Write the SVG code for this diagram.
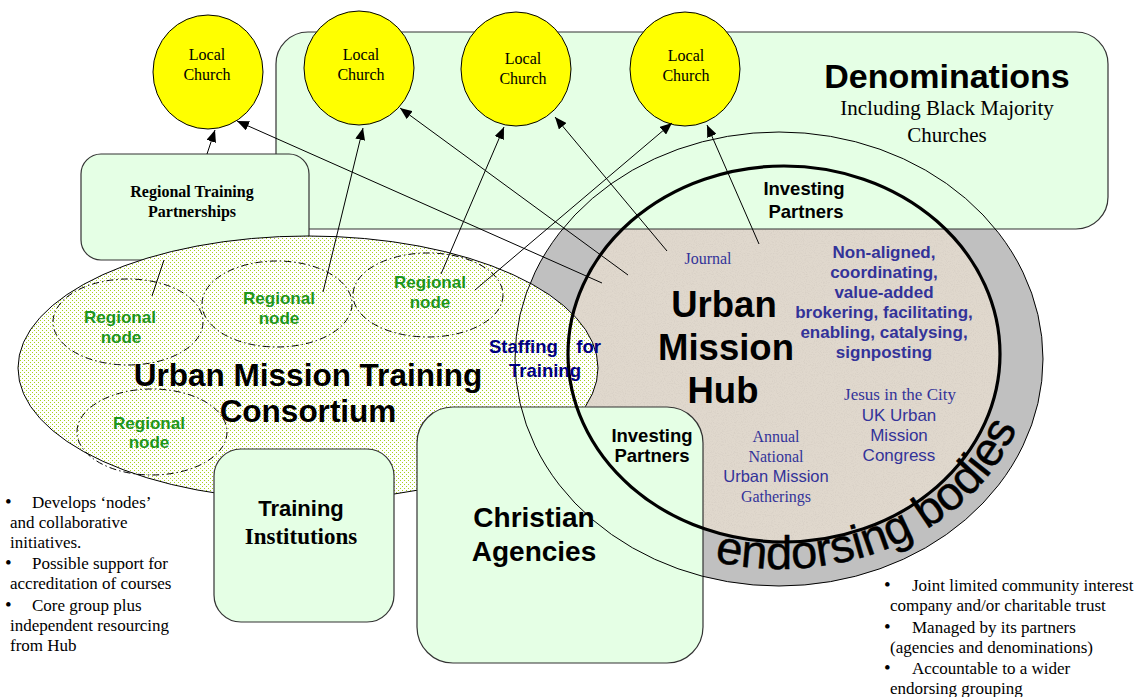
<svg xmlns="http://www.w3.org/2000/svg" width="1141" height="697" viewBox="0 0 1141 697">
<defs>
<pattern id="dots" width="4" height="4" patternUnits="userSpaceOnUse">
<rect width="4" height="4" fill="#ffffff"/>
<rect x="0" y="0" width="1" height="1" fill="#a8d020"/>
<rect x="2" y="2" width="1" height="1" fill="#a8d020"/>
</pattern>
<filter id="speckle" x="0" y="0" width="1" height="1">
<feTurbulence type="fractalNoise" baseFrequency="0.9" numOctaves="2" seed="3" result="n"/>
<feColorMatrix in="n" type="matrix" values="0 0 0 0 0.55  0 0 0 0 0.5  0 0 0 0 0.45  0 0 0 -2.2 1.2" result="m"/>
<feComposite in="m" in2="SourceGraphic" operator="in"/>
</filter>
<marker id="arr" viewBox="0 0 12 10" refX="12" refY="5" markerWidth="12" markerHeight="10" markerUnits="userSpaceOnUse" orient="auto">
<path d="M0,0 L12,5 L0,10 z" fill="#000"/>
</marker>
<path id="endPath" d="M710.5,560.7 A252,213 0 0,0 1031,374.6"/>
</defs>
<style>
.box{fill:#e5ffe5;stroke:#333;stroke-width:1.2}
.church{fill:#ffff00;stroke:#000;stroke-width:1}
.serif{font-family:"Liberation Serif","Times New Roman",serif}
.sans{font-family:"Liberation Sans",Arial,sans-serif}
.b{font-weight:bold}
.mid{text-anchor:middle}
.node{fill:none;stroke:#000;stroke-width:1;stroke-dasharray:7 3 1.5 3}
.ntxt{font-family:"Liberation Sans",Arial,sans-serif;font-weight:bold;font-size:17px;fill:#1e961e;text-anchor:middle}
.blue{fill:#333399}
.conn{stroke:#000;stroke-width:1;fill:none;marker-end:url(#arr)}
.bul{font-family:"Liberation Serif","Times New Roman",serif;font-size:17px;fill:#000}
</style>

<g id="endorsing-ring">
<ellipse cx="779" cy="359" rx="264" ry="227" fill="#c0c0c0"/>
</g>
<g id="hub-fill">
<ellipse cx="784" cy="354" rx="216" ry="188" fill="#e0d8cd"/>
<ellipse cx="784" cy="354" rx="216" ry="188" fill="#e0d8cd" filter="url(#speckle)" opacity="0.35"/>
</g>

<g id="denominations">
<rect class="box" x="276" y="32" width="832" height="197" rx="32"/>
</g>

<g id="local-church-1">
<ellipse class="church" cx="208" cy="72" rx="55" ry="57"/>
<text class="serif mid" x="207" y="60" font-size="16">Local</text>
<text class="serif mid" x="207" y="80" font-size="16">Church</text>
</g>
<g id="local-church-2">
<ellipse class="church" cx="359" cy="68" rx="55" ry="57"/>
<text class="serif mid" x="361" y="60" font-size="16">Local</text>
<text class="serif mid" x="361" y="80" font-size="16">Church</text>
</g>
<g id="local-church-3">
<ellipse class="church" cx="516" cy="69" rx="55" ry="57"/>
<text class="serif mid" x="523" y="64" font-size="16">Local</text>
<text class="serif mid" x="523" y="84" font-size="16">Church</text>
</g>
<g id="local-church-4">
<ellipse class="church" cx="685" cy="69" rx="55" ry="57"/>
<text class="serif mid" x="686" y="61" font-size="16">Local</text>
<text class="serif mid" x="686" y="81" font-size="16">Church</text>
</g>

<g id="regional-training-partnerships">
<rect class="box" x="81" y="154" width="228" height="106" rx="20"/>
<text class="serif b mid" x="192" y="197" font-size="16">Regional Training</text>
<text class="serif b mid" x="192" y="217" font-size="16">Partnerships</text>
</g>

<g id="consortium">
<ellipse cx="308" cy="368" rx="290" ry="132" fill="url(#dots)" stroke="#000" stroke-width="1"/>
</g>

<g id="regional-node-1">
<ellipse class="node" cx="128" cy="322" rx="75" ry="43"/>
<text class="ntxt" x="120" y="323">Regional</text>
<text class="ntxt" x="121" y="343">node</text>
</g>
<g id="regional-node-2">
<ellipse class="node" cx="277" cy="304" rx="75" ry="43"/>
<text class="ntxt" x="279" y="304">Regional</text>
<text class="ntxt" x="279" y="324">node</text>
</g>
<g id="regional-node-3">
<ellipse class="node" cx="428" cy="295" rx="75" ry="42"/>
<text class="ntxt" x="430" y="288">Regional</text>
<text class="ntxt" x="430" y="308">node</text>
</g>
<g id="regional-node-4">
<ellipse class="node" cx="152" cy="432" rx="75" ry="43"/>
<text class="ntxt" x="149" y="429">Regional</text>
<text class="ntxt" x="149" y="448">node</text>
</g>

<g id="training-institutions">
<rect class="box" x="214" y="449" width="180" height="173" rx="27"/>
<text class="sans b mid" x="301" y="516" font-size="22">Training</text>
<text class="serif b mid" x="301" y="544" font-size="23">Institutions</text>
</g>

<g id="christian-agencies">
<rect class="box" x="417" y="407" width="286" height="256" rx="36"/>
<text class="sans b mid" x="534" y="527" font-size="28">Christian</text>
<text class="sans b mid" x="534" y="561" font-size="28">Agencies</text>
</g>

<g id="investing-partners-circle">
<ellipse cx="779" cy="359" rx="264" ry="227" fill="none" stroke="#000" stroke-width="1"/>
</g>
<g id="hub-outline">
<ellipse cx="784" cy="354" rx="216" ry="188" fill="none" stroke="#000" stroke-width="3.2"/>
</g>

<g id="texts">
<text class="sans b mid" x="947" y="88" font-size="34">Denominations</text>
<text class="serif mid" x="947" y="115" font-size="21">Including Black Majority</text>
<text class="serif mid" x="947" y="142" font-size="21">Churches</text>

<text class="sans b mid" x="308" y="386" font-size="31.5">Urban Mission Training</text>
<text class="sans b mid" x="308" y="422" font-size="31.5">Consortium</text>

<text class="sans b" x="489" y="353" font-size="18.5" fill="#000080">Staffing</text>
<text class="sans b" x="601" y="353" font-size="18.5" fill="#000080" text-anchor="end">for</text>
<text class="sans b mid" x="545" y="377" font-size="18.5" fill="#000080">Training</text>

<text class="sans b mid" x="724" y="317" font-size="36.5">Urban</text>
<text class="sans b mid" x="726" y="360" font-size="36.5">Mission</text>
<text class="sans b mid" x="723" y="403" font-size="36.5">Hub</text>

<text class="sans b mid" x="804" y="195" font-size="18.5">Investing</text>
<text class="sans b mid" x="806" y="218" font-size="18.5">Partners</text>

<text class="sans b mid" x="652" y="442" font-size="18.5">Investing</text>
<text class="sans b mid" x="652" y="462" font-size="18.5">Partners</text>

<text class="serif mid blue" x="708" y="264" font-size="16">Journal</text>

<g class="sans b mid blue" font-size="17">
<text x="884" y="258">Non-aligned,</text>
<text x="884" y="278">coordinating,</text>
<text x="884" y="298">value-added</text>
<text x="884" y="318">brokering, facilitating,</text>
<text x="884" y="338">enabling, catalysing,</text>
<text x="884" y="358">signposting</text>
</g>

<text class="serif mid blue" x="900" y="400" font-size="17">Jesus in the City</text>
<text class="sans mid blue" x="899" y="421" font-size="17">UK Urban</text>
<text class="sans mid blue" x="899" y="441" font-size="17">Mission</text>
<text class="sans mid blue" x="899" y="461" font-size="17">Congress</text>

<text class="serif mid blue" x="776" y="442" font-size="16">Annual</text>
<text class="serif mid blue" x="776" y="462" font-size="16">National</text>
<text class="sans mid blue" x="776" y="482" font-size="16.5">Urban Mission</text>
<text class="serif mid blue" x="776" y="502" font-size="16">Gatherings</text>

<text class="sans" font-size="47" stroke="#000" stroke-width="0.5"><textPath href="#endPath" startOffset="4">endorsing bodies</textPath></text>

<g class="bul">
<text x="5" y="508" font-size="19">•</text><text x="32" y="508">Develops ‘nodes’</text>
<text x="10" y="528">and collaborative</text>
<text x="10" y="548">initiatives.</text>
<text x="5" y="569" font-size="19">•</text><text x="32" y="569">Possible support for</text>
<text x="10" y="589">accreditation of courses</text>
<text x="5" y="611" font-size="19">•</text><text x="32" y="611">Core group plus</text>
<text x="10" y="631">independent resourcing</text>
<text x="10" y="651">from Hub</text>

<text x="884" y="591" font-size="19">•</text><text x="912" y="591">Joint limited community interest</text>
<text x="890" y="611">company and/or charitable trust</text>
<text x="884" y="633" font-size="19">•</text><text x="912" y="633">Managed by its partners</text>
<text x="890" y="653">(agencies and denominations)</text>
<text x="884" y="674" font-size="19">•</text><text x="912" y="674">Accountable to a wider</text>
<text x="890" y="694">endorsing grouping</text>
</g>
</g>

<g id="connectors">
<line class="conn" x1="207" y1="154" x2="215" y2="130"/>
<line class="conn" x1="602" y1="283" x2="237" y2="121"/>
<line class="conn" x1="628" y1="275" x2="400" y2="108"/>
<line class="conn" x1="323" y1="292" x2="363" y2="128" stroke-width="2"/>
<line class="conn" x1="441" y1="274" x2="504" y2="127"/>
<line class="conn" x1="667" y1="251" x2="555" y2="117"/>
<line class="conn" x1="475" y1="290" x2="672" y2="123"/>
<line class="conn" x1="759" y1="244" x2="707" y2="125"/>
<line x1="152" y1="296" x2="164" y2="260" stroke="#000" stroke-width="1"/>
</g>
</svg>
